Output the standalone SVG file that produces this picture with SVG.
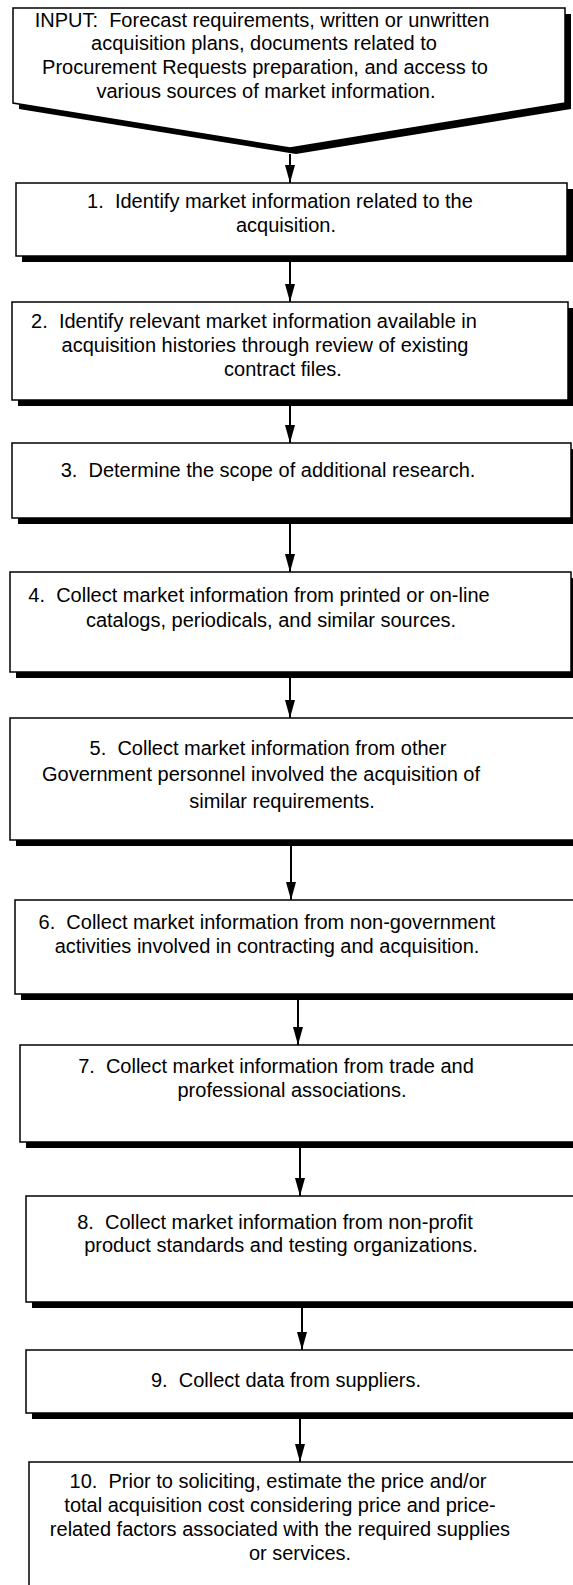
<svg xmlns="http://www.w3.org/2000/svg" width="573" height="1585" viewBox="0 0 573 1585">
<style>
.box{fill:#fff;stroke:#000;stroke-width:1.5}
.sh{fill:#000}
.t{font-family:"Liberation Sans",Arial,sans-serif;font-size:20px;fill:#000;text-anchor:middle;white-space:pre}
.c{stroke:#000;stroke-width:2;fill:none;marker-end:url(#ah)}
</style>
<defs>
<marker id="ah" markerUnits="userSpaceOnUse" viewBox="0 0 18 10" markerWidth="18" markerHeight="10" refX="18" refY="5" orient="auto">
<path d="M0,0 L18,5 L0,10 z" fill="#000"/>
</marker>
</defs>
<rect width="573" height="1585" fill="#fff"/>
<g id="input">
<polygon class="sh" points="19,14 571,14 571,109 296,154 19,109"/>
<polygon class="box" points="13,8 565,8 565,103 290,148 13,103"/>
<text class="t" x="262" y="27">INPUT:  Forecast requirements, written or unwritten</text>
<text class="t" x="264" y="50">acquisition plans, documents related to</text>
<text class="t" x="265" y="74">Procurement Requests preparation, and access to</text>
<text class="t" x="266" y="98">various sources of market information.</text>
</g>
<g id="step1">
<rect class="sh" x="22" y="189" width="551" height="73"/>
<rect class="box" x="16" y="183" width="551" height="73"/>
<text class="t" x="280" y="208">1.  Identify market information related to the</text>
<text class="t" x="286" y="232">acquisition.</text>
</g>
<g id="step2">
<rect class="sh" x="18" y="308" width="556" height="98"/>
<rect class="box" x="12" y="302" width="556" height="98"/>
<text class="t" x="254" y="328">2.  Identify relevant market information available in</text>
<text class="t" x="265" y="352">acquisition histories through review of existing</text>
<text class="t" x="283" y="376">contract files.</text>
</g>
<g id="step3">
<rect class="sh" x="18" y="449" width="559" height="75"/>
<rect class="box" x="12" y="443" width="559" height="75"/>
<text class="t" x="268" y="477">3.  Determine the scope of additional research.</text>
</g>
<g id="step4">
<rect class="sh" x="16" y="578" width="561" height="100"/>
<rect class="box" x="10" y="572" width="561" height="100"/>
<text class="t" x="259" y="602">4.  Collect market information from printed or on-line</text>
<text class="t" x="271" y="627">catalogs, periodicals, and similar sources.</text>
</g>
<g id="step5">
<rect class="sh" x="16" y="724" width="580" height="122"/>
<rect class="box" x="10" y="718" width="580" height="122"/>
<text class="t" x="268" y="755">5.  Collect market information from other</text>
<text class="t" x="261" y="781">Government personnel involved the acquisition of</text>
<text class="t" x="282" y="808">similar requirements.</text>
</g>
<g id="step6">
<rect class="sh" x="21" y="900" width="580" height="100"/>
<rect class="box" x="15" y="900" width="580" height="94"/>
<text class="t" x="267" y="929">6.  Collect market information from non-government</text>
<text class="t" x="267" y="953">activities involved in contracting and acquisition.</text>
</g>
<g id="step7">
<rect class="sh" x="26" y="1051" width="580" height="97"/>
<rect class="box" x="20" y="1045" width="580" height="97"/>
<text class="t" x="276" y="1073">7.  Collect market information from trade and</text>
<text class="t" x="292" y="1097">professional associations.</text>
</g>
<g id="step8">
<rect class="sh" x="32" y="1202" width="580" height="106"/>
<rect class="box" x="26" y="1196" width="580" height="106"/>
<text class="t" x="275" y="1229">8.  Collect market information from non-profit</text>
<text class="t" x="281" y="1252">product standards and testing organizations.</text>
</g>
<g id="step9">
<rect class="sh" x="32" y="1356" width="580" height="63"/>
<rect class="box" x="26" y="1350" width="580" height="63"/>
<text class="t" x="286" y="1387">9.  Collect data from suppliers.</text>
</g>
<g id="step10">
<rect class="sh" x="35" y="1468" width="580" height="140"/>
<rect class="box" x="29" y="1462" width="580" height="140"/>
<text class="t" x="278" y="1488">10.  Prior to soliciting, estimate the price and/or</text>
<text class="t" x="280" y="1512">total acquisition cost considering price and price-</text>
<text class="t" x="280" y="1536">related factors associated with the required supplies</text>
<text class="t" x="300" y="1560">or services.</text>
</g>
<g id="connectors">
<line class="c" x1="290" y1="154" x2="290" y2="183"/>
<line class="c" x1="290" y1="262" x2="290" y2="302"/>
<line class="c" x1="290" y1="406" x2="290" y2="443"/>
<line class="c" x1="290" y1="524" x2="290" y2="572"/>
<line class="c" x1="290" y1="678" x2="290" y2="718"/>
<line class="c" x1="291" y1="846" x2="291" y2="900"/>
<line class="c" x1="298" y1="1000" x2="298" y2="1045"/>
<line class="c" x1="300" y1="1148" x2="300" y2="1196"/>
<line class="c" x1="302" y1="1308" x2="302" y2="1350"/>
<line class="c" x1="300" y1="1419" x2="300" y2="1462"/>
</g>
</svg>
